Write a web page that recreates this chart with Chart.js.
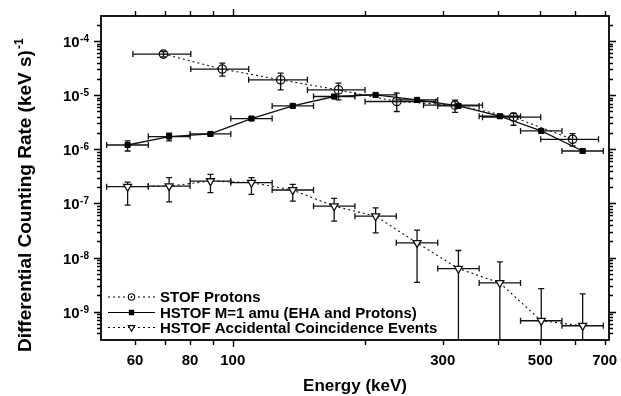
<!DOCTYPE html>
<html>
<head>
<meta charset="utf-8">
<title>Differential counting rate vs energy</title>
<script src="https://cdn.jsdelivr.net/npm/chart.js@4.4.1/dist/chart.umd.min.js"></script>
<style>
  html, body { margin: 0; padding: 0; background: #fff; }
  #chart { display: block; }
</style>
</head>
<body>
<canvas id="chart" width="621" height="396"></canvas>
<script>
  'use strict';

  // Axis ticks.
  const energyTicks = [60, 70, 80, 90, 100, 200, 300, 400, 500, 600, 700];
  const energyLabels = [60, 80, 100, 300, 500, 700];
  const rateDecades = [-9, -8, -7, -6, -5, -4];

  // STOF protons (keV, bin edges, rate, rate error range).
  const stofEnergy = [69.6, 94.7, 128.5, 173.9, 235.9, 320.1, 434.5, 591.6];
  const stofBinLo = [59.3, 80.3, 108.7, 147.8, 199.8, 271.3, 369.4, 501];
  const stofBinHi = [80.3, 108.7, 147.8, 199.8, 289.3, 369.4, 501, 677.8];
  const stofRate = [5.74e-5, 3.03e-5, 1.92e-5, 1.25e-5, 7.64e-6, 6.53e-6, 3.92e-6, 1.53e-6];
  const stofRateLo = [5.1e-5, 2.25e-5, 1.25e-5, 8.2e-6, 4.99e-6, 4.79e-6, 2.78e-6, 1.15e-6];
  const stofRateHi = [6.4e-5, 3.92e-5, 2.55e-5, 1.67e-5, 1.09e-5, 8.07e-6, 4.64e-6, 1.95e-6];

  // HSTOF M=1 amu.
  const hstofEnergy = [57.7, 71.7, 89.0, 110.3, 136.9, 170.0, 211.2, 262.3, 325.7, 404.5, 502.3, 623.8];
  const hstofBinLo = [51.7, 64.3, 80.0, 99.0, 122.9, 152.6, 189.5, 235.3, 292.3, 363.0, 450.7, 559.8];
  const hstofBinHi = [64.3, 80.0, 99.0, 122.9, 152.6, 189.5, 235.3, 292.3, 363.0, 450.7, 559.8, 695];
  const hstofRate = [1.20e-6, 1.72e-6, 1.92e-6, 3.70e-6, 6.34e-6, 9.44e-6, 1.01e-5, 8.18e-6, 6.34e-6, 4.08e-6, 2.18e-6, 9.3e-7];
  const hstofRateLo = [9.3e-7, 1.43e-6, 1.78e-6, 3.45e-6, 5.95e-6, 8.8e-6, 9.4e-6, 7.6e-6, 5.9e-6, 3.8e-6, 2.03e-6, 8.7e-7];
  const hstofRateHi = [1.43e-6, 1.98e-6, 2.06e-6, 3.97e-6, 6.75e-6, 1.01e-5, 1.08e-5, 8.8e-6, 6.8e-6, 4.38e-6, 2.34e-6, 1.0e-6];

  // HSTOF accidental coincidence events (same energy bins as HSTOF).
  const accRate = [2.04e-7, 2.09e-7, 2.59e-7, 2.42e-7, 1.77e-7, 8.9e-8, 5.82e-8, 1.87e-8, 6.25e-9, 3.40e-9, 6.8e-10, 5.5e-10];
  const accRateLo = [9.3e-8, 1.07e-7, 1.58e-7, 1.47e-7, 1.10e-7, 4.7e-8, 2.86e-8, 3.49e-9, 1e-10, 1e-10, 1e-10, 1e-10];
  const accRateHi = [2.48e-7, 2.99e-7, 3.44e-7, 2.99e-7, 2.25e-7, 1.24e-7, 8.3e-8, 3.2e-8, 1.35e-8, 8.3e-9, 2.67e-9, 2.13e-9];

  const seriesNames = [
    'STOF Protons',
    'HSTOF M=1 amu (EHA and Protons)',
    'HSTOF Accidental Coincidence Events',
  ];

  function toPoints(xs, ys) {
    return xs.map((x, i) => ({ x: x, y: ys[i] }));
  }

  const errorBars = [
    { lo: stofBinLo, hi: stofBinHi, yLo: stofRateLo, yHi: stofRateHi },
    { lo: hstofBinLo, hi: hstofBinHi, yLo: hstofRateLo, yHi: hstofRateHi },
    { lo: hstofBinLo, hi: hstofBinHi, yLo: accRateLo, yHi: accRateHi },
  ];

  const FONT = '"Liberation Sans", Arial, Helvetica, sans-serif';

  // Legend marker sizes are a bit smaller than the plotted ones.
  const legendRadius = [3.2, 3.0, 3.8];

  /**
   * Draws horizontal (bin) and vertical (rate) error bars.
   */
  const errorBarPlugin = {
    id: 'errorBars',
    beforeDatasetsDraw: function (chart) {
      const ctx = chart.ctx;
      const a = chart.chartArea;
      const x = chart.scales.x;
      const y = chart.scales.y;
      const cap = 3;
      ctx.save();
      ctx.beginPath();
      ctx.rect(a.left, a.top, a.right - a.left, a.bottom - a.top);
      ctx.clip();
      ctx.strokeStyle = '#111';
      ctx.lineWidth = 1.3;
      chart.data.datasets.forEach(function (ds, d) {
        const eb = errorBars[d];
        ds.data.forEach(function (p, i) {
          const px = x.getPixelForValue(p.x);
          const py = y.getPixelForValue(p.y);
          const x0 = x.getPixelForValue(eb.lo[i]);
          const x1 = x.getPixelForValue(eb.hi[i]);
          const y0 = y.getPixelForValue(eb.yLo[i]);
          const y1 = y.getPixelForValue(eb.yHi[i]);
          ctx.beginPath();
          ctx.moveTo(x0, py); ctx.lineTo(x1, py);
          ctx.moveTo(x0, py - cap); ctx.lineTo(x0, py + cap);
          ctx.moveTo(x1, py - cap); ctx.lineTo(x1, py + cap);
          ctx.moveTo(px, y0); ctx.lineTo(px, y1);
          ctx.moveTo(px - cap, y0); ctx.lineTo(px + cap, y0);
          ctx.moveTo(px - cap, y1); ctx.lineTo(px + cap, y1);
          ctx.stroke();
        });
      });
      ctx.restore();
    },
  };

  /**
   * Draws the frame, outward ticks on all sides, tick labels, titles and legend.
   */
  const framePlugin = {
    id: 'frame',
    afterDraw: function (chart) {
      const ctx = chart.ctx;
      const a = chart.chartArea;
      const x = chart.scales.x;
      const y = chart.scales.y;
      ctx.save();
      ctx.strokeStyle = '#000';
      ctx.fillStyle = '#000';
      ctx.lineWidth = 1.8;
      ctx.strokeRect(a.left, a.top, a.right - a.left, a.bottom - a.top);

      // Energy ticks, top and bottom.
      ctx.lineWidth = 1.4;
      ctx.beginPath();
      energyTicks.forEach(function (v) {
        const px = Math.round(x.getPixelForValue(v)) + 0.5;
        const len = v === 100 ? 7 : 5;
        ctx.moveTo(px, a.bottom); ctx.lineTo(px, a.bottom + len);
        ctx.moveTo(px, a.top); ctx.lineTo(px, a.top - len);
      });
      ctx.stroke();

      // Rate ticks, left and right.
      ctx.beginPath();
      rateDecades.concat([rateDecades[0] - 1]).forEach(function (e) {
        for (let m = 1; m <= 9; m++) {
          const v = m * Math.pow(10, e);
          if (v <= y.min || v >= y.max) {
            continue;
          }
          const py = Math.round(y.getPixelForValue(v)) + 0.5;
          const len = m === 1 ? 7 : 4;
          ctx.moveTo(a.left, py); ctx.lineTo(a.left - len, py);
          ctx.moveTo(a.right, py); ctx.lineTo(a.right + len, py);
        }
      });
      ctx.stroke();

      // Energy tick labels.
      ctx.font = 'bold 15px ' + FONT;
      ctx.textAlign = 'center';
      ctx.textBaseline = 'alphabetic';
      energyLabels.forEach(function (v) {
        ctx.fillText(String(v), x.getPixelForValue(v), a.bottom + 25);
      });

      // Rate tick labels 10^n.
      rateDecades.forEach(function (e) {
        const py = y.getPixelForValue(Math.pow(10, e));
        const sup = String(e);
        ctx.font = 'bold 10px ' + FONT;
        const supW = ctx.measureText(sup).width;
        const right = a.left - 12;
        ctx.textAlign = 'right';
        ctx.fillText(sup, right, py + 1);
        ctx.font = 'bold 15px ' + FONT;
        ctx.fillText('10', right - supW - 0.5, py + 6);
      });

      // X title.
      ctx.font = 'bold 17px ' + FONT;
      ctx.textAlign = 'center';
      ctx.fillText('Energy (keV)', (a.left + a.right) / 2, 391);

      // Y title with superscript.
      ctx.save();
      ctx.translate(31, 352);
      ctx.rotate(-Math.PI / 2);
      ctx.textAlign = 'left';
      ctx.font = 'bold 19px ' + FONT;
      const yTitle = 'Differential Counting Rate (keV s)';
      ctx.fillText(yTitle, 0, 0);
      const w = ctx.measureText(yTitle).width;
      ctx.font = 'bold 12px ' + FONT;
      ctx.fillText('-1', w + 1, -8);
      ctx.restore();

      // Legend.
      const rows = [297, 312.5, 327.5];
      chart.data.datasets.forEach(function (ds, i) {
        const ly = rows[i];
        ctx.save();
        ctx.lineWidth = 1.1;
        ctx.setLineDash(ds.borderDash || []);
        ctx.beginPath();
        ctx.moveTo(108, ly); ctx.lineTo(155, ly);
        ctx.stroke();
        ctx.setLineDash([]);
        ctx.fillStyle = ds.pointBackgroundColor === '#000' ? '#000' : '#fff';
        ctx.strokeStyle = '#000';
        ctx.lineWidth = 1.1;
        Chart.helpers.drawPoint(ctx, {
          pointStyle: ds.pointStyle,
          rotation: ds.pointRotation || 0,
          radius: legendRadius[i],
          borderWidth: 1.1,
        }, 131.5, ly);
        if (ds.pointStyle === 'circle') {
          ctx.fillStyle = '#000';
          ctx.beginPath();
          ctx.arc(131.5, ly, 0.9, 0, Math.PI * 2);
          ctx.fill();
        }
        ctx.restore();
        ctx.font = 'bold 15px ' + FONT;
        ctx.textAlign = 'left';
        ctx.textBaseline = 'middle';
        ctx.fillText(seriesNames[i], 160, ly + 1);
      });
      ctx.restore();
    },
  };

  new Chart(document.getElementById('chart'), {
    type: 'scatter',
    data: {
      datasets: [
        {
          label: seriesNames[0],
          data: toPoints(stofEnergy, stofRate),
          showLine: true,
          borderColor: '#111',
          borderWidth: 1.1,
          borderDash: [2, 3],
          pointStyle: 'circle',
          pointRadius: 4.2,
          pointBorderWidth: 1.3,
          pointBorderColor: '#111',
          pointBackgroundColor: 'rgba(0,0,0,0)',
        },
        {
          label: seriesNames[1],
          data: toPoints(hstofEnergy, hstofRate),
          showLine: true,
          borderColor: '#111',
          borderWidth: 1.3,
          pointStyle: 'rect',
          pointRadius: 3.6,
          pointBorderWidth: 1,
          pointBorderColor: '#000',
          pointBackgroundColor: '#000',
        },
        {
          label: seriesNames[2],
          data: toPoints(hstofEnergy, accRate),
          showLine: true,
          borderColor: '#111',
          borderWidth: 1.1,
          borderDash: [2, 3],
          pointStyle: 'triangle',
          pointRotation: 180,
          pointRadius: 4.6,
          pointBorderWidth: 1.3,
          pointBorderColor: '#111',
          pointBackgroundColor: '#fff',
        },
      ],
    },
    options: {
      responsive: false,
      animation: false,
      events: [],
      layout: {
        padding: { left: 101, right: 12, top: 16, bottom: 56 },
      },
      plugins: {
        legend: { display: false },
        tooltip: { enabled: false },
      },
      scales: {
        x: {
          type: 'logarithmic',
          display: false,
          min: 50.2,
          max: 716,
        },
        y: {
          type: 'logarithmic',
          display: false,
          min: 3e-10,
          max: 2.9e-4,
        },
      },
    },
    plugins: [errorBarPlugin, framePlugin],
  });
</script>
</body>
</html>
